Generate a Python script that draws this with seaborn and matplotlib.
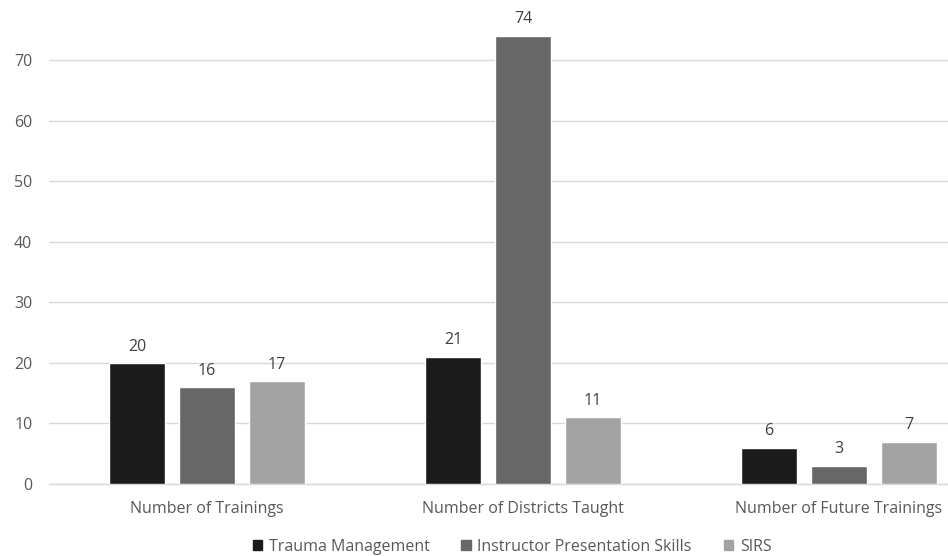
import matplotlib
matplotlib.use("Agg")
import matplotlib.pyplot as plt
import seaborn as sns
import pandas as pd

categories = ["Number of Trainings", "Number of Districts Taught", "Number of Future Trainings"]
series = ["Trauma Management", "Instructor Presentation Skills", "SIRS"]
trauma_management = [20, 21, 6]
instructor_presentation = [16, 74, 3]
sirs = [17, 11, 7]
colors = ["#1b1b1b", "#676767", "#a3a3a3"]
y_ticks = [0, 10, 20, 30, 40, 50, 60, 70]

rows = []
for name, vals in zip(series, [trauma_management, instructor_presentation, sirs]):
    for cat, v in zip(categories, vals):
        rows.append({"category": cat, "series": name, "value": v})
df = pd.DataFrame(rows)

sns.set_theme(style="white")
plt.rcParams["font.family"] = ["Open Sans", "DejaVu Sans"]

fig = plt.figure(figsize=(9.48, 5.56), dpi=100)
ax = fig.add_axes([49 / 948, 1 - 484 / 556, 948 / 948, 484 / 556])

sns.barplot(data=df, x="category", y="value", hue="series", order=categories,
            hue_order=series, palette=colors, width=0.665, gap=0.21,
            saturation=1, errorbar=None, ax=ax, zorder=3, legend=False)

for container in ax.containers:
    ax.bar_label(container, padding=6, fontsize=11.5, color="#404040")

ax.set_ylim(0, 79.9)
ax.set_yticks(y_ticks)
ax.set_xlim(-0.5, 2.5)
ax.yaxis.grid(True, color="#d9d9d9", linewidth=1, zorder=0)
ax.set_axisbelow(True)
for side in ["top", "right", "left"]:
    ax.spines[side].set_visible(False)
ax.spines["bottom"].set_color("#d9d9d9")
ax.spines["bottom"].set_linewidth(1)
ax.tick_params(axis="both", length=0, labelsize=11.5, labelcolor="#595959")
ax.tick_params(axis="x", pad=12)
ax.tick_params(axis="y", pad=12)
ax.set_xlabel("")
ax.set_ylabel("")

handles = [plt.Rectangle((0, 0), 1, 1, color=c) for c in colors]
leg = fig.legend(handles, series, loc="center", bbox_to_anchor=(512 / 948, 1 - 547 / 556),
                 ncol=3, frameon=False, fontsize=11.5, handlelength=0.6, handleheight=0.6,
                 handletextpad=0.4, columnspacing=2.0, borderaxespad=0, borderpad=0)
for t in leg.get_texts():
    t.set_color("#595959")

fig.savefig("out.png", dpi=100)
